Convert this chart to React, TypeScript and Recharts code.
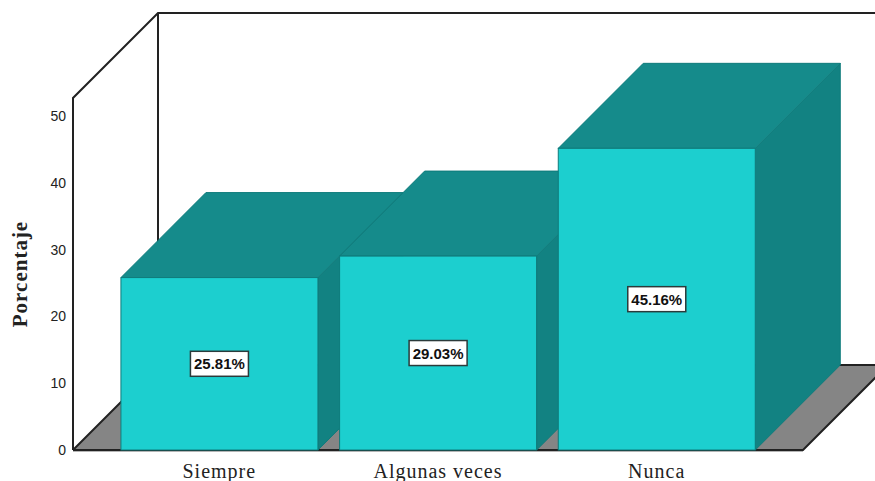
import { BarChart, Bar, XAxis, YAxis, LabelList } from "recharts";

const categories = ["Siempre", "Algunas veces", "Nunca"];
const percentages = [25.81, 29.03, 45.16];
const yTicks = [0, 10, 20, 30, 40, 50];

const rows = categories.map((name, i) => ({ name, value: percentages[i] }));

const W = 875;
const H = 481;
const LEFT = 73;
const RIGHT = 803;
const TOP = 98;
const BOTTOM = 450;
const DEPTH = 85;

const FRONT = "#1ccfcf";
const ROOF = "#158b8b";
const SIDE = "#128282";
const EDGE = "#0f7b7b";
const FLOOR = "#858585";
const FRAME = "#222222";

function Bar3D({ x, y, width, height }: any) {
  const r = x + width;
  const b = y + height;
  return (
    <g stroke={EDGE} strokeWidth={1}>
      <polygon fill={SIDE} points={`${r},${y} ${r + DEPTH},${y - DEPTH} ${r + DEPTH},${b - DEPTH} ${r},${b}`} />
      <polygon fill={ROOF} points={`${x},${y} ${x + DEPTH},${y - DEPTH} ${r + DEPTH},${y - DEPTH} ${r},${y}`} />
      <rect x={x} y={y} width={width} height={height} fill={FRONT} />
    </g>
  );
}

function ValueBox({ x, y, width, height, value }: any) {
  const cx = x + width / 2;
  const cy = y + height / 2;
  return (
    <g>
      <rect x={cx - 29} y={cy - 12.5} width={58} height={25} fill="#fff" stroke="#2b3b3b" strokeWidth={1.5} />
      <text x={cx} y={cy + 5.5} textAnchor="middle" fontFamily="Liberation Sans" fontWeight="bold" fontSize={15} fill="#111">
        {`${Number(value).toFixed(2)}%`}
      </text>
    </g>
  );
}

export default function App() {
  return (
    <div style={{ position: "absolute", left: 0, top: 0, width: W, height: H, background: "#fff", overflow: "hidden" }}>
      <BarChart
        width={W}
        height={H}
        data={rows}
        barCategoryGap="5%"
        margin={{ top: TOP, right: W - RIGHT, bottom: 0, left: 0 }}
        style={{ overflow: "visible" }}
      >
        {/* room behind the bars */}
        <g>
          <polygon
            fill={FLOOR}
            points={`${LEFT},${BOTTOM} ${LEFT + DEPTH},${BOTTOM - DEPTH} ${RIGHT + DEPTH},${BOTTOM - DEPTH} ${RIGHT},${BOTTOM}`}
          />
          <line x1={LEFT} y1={BOTTOM + 1.5} x2={RIGHT} y2={BOTTOM + 1.5} stroke="#b5b5b5" strokeWidth={1} />
          <g stroke={FRAME} strokeWidth={2} fill="none">
            <polyline points={`${LEFT},${BOTTOM} ${LEFT},${TOP} ${LEFT + DEPTH},${TOP - DEPTH} ${W + 20},${TOP - DEPTH}`} />
            <line x1={LEFT + DEPTH} y1={TOP - DEPTH} x2={LEFT + DEPTH} y2={BOTTOM - DEPTH} />
            <polyline points={`${LEFT},${BOTTOM} ${LEFT + DEPTH},${BOTTOM - DEPTH} ${RIGHT + DEPTH},${BOTTOM - DEPTH} ${RIGHT},${BOTTOM} ${LEFT},${BOTTOM}`} />
          </g>
        </g>
        <XAxis
          dataKey="name"
          axisLine={false}
          tickLine={false}
          interval={0}
          padding={{ left: 37, right: 37 }}
          height={H - BOTTOM}
          tickMargin={8}
          tick={{ fill: "#222", fontSize: 20, fontFamily: "Liberation Serif", letterSpacing: 1 }}
        />
        <YAxis
          width={LEFT}
          domain={[0, (BOTTOM - TOP) / 6.68]}
          ticks={yTicks}
          axisLine={false}
          tickLine={false}
          tickMargin={1}
          tick={{ fill: "#222", fontSize: 14, fontFamily: "Liberation Sans" }}
          label={{
            value: "Porcentaje",
            angle: -90,
            position: "insideLeft",
            offset: 0,
            dx: 20,
            style: { textAnchor: "middle", fontFamily: "Liberation Serif", fontWeight: "bold", fontSize: 21, letterSpacing: 1, fill: "#222" },
          }}
        />
        <Bar dataKey="value" shape={<Bar3D />} isAnimationActive={false}>
          <LabelList dataKey="value" content={<ValueBox />} />
        </Bar>
      </BarChart>
    </div>
  );
}
